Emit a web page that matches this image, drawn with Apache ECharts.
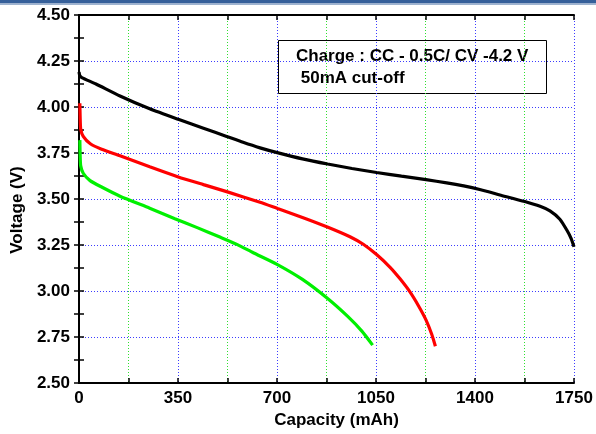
<!DOCTYPE html>
<html>
<head>
<meta charset="utf-8">
<script src="https://cdn.jsdelivr.net/npm/echarts@6/dist/echarts.min.js"></script>
<style>
html,body{margin:0;padding:0;background:#fff;}
#chart{width:596px;height:434px;}
</style>
</head>
<body>
<div id="chart"></div>
<script>
// ---- data (capacity mAh, voltage V) ----
var xTicks = [0, 350, 700, 1050, 1400, 1750];
var yTicks = [2.50, 2.75, 3.00, 3.25, 3.50, 3.75, 4.00, 4.25, 4.50];

var blackCurve = [
  [0, 4.19], [3, 4.17], [10, 4.16], [60, 4.125], [145, 4.06], [250, 3.99],
  [351, 3.933], [440, 3.885], [522, 3.84], [580, 3.808], [640, 3.778],
  [701, 3.752], [790, 3.718], [879, 3.69], [965, 3.666], [1052, 3.644],
  [1140, 3.624], [1227, 3.605], [1300, 3.588], [1360, 3.571], [1420, 3.55],
  [1488, 3.522], [1576, 3.486], [1630, 3.46], [1665, 3.435], [1700, 3.39],
  [1725, 3.33], [1740, 3.285], [1750, 3.24]
];
var redCurve = [
  [3, 4.02], [4, 3.95], [6, 3.88], [15, 3.84], [40, 3.80], [80, 3.77],
  [145, 3.735], [250, 3.675], [351, 3.62], [440, 3.578], [522, 3.54],
  [640, 3.482], [702, 3.448], [790, 3.40], [878, 3.348], [958, 3.295],
  [1005, 3.254], [1052, 3.198], [1099, 3.13], [1135, 3.066], [1170, 2.995],
  [1200, 2.92], [1227, 2.842], [1247, 2.765], [1260, 2.70]
];
var greenCurve = [
  [3, 3.82], [4, 3.74], [6, 3.68], [15, 3.64], [39, 3.60], [80, 3.565],
  [145, 3.515], [250, 3.45], [339, 3.393], [420, 3.343], [498, 3.293],
  [560, 3.252], [616, 3.208], [700, 3.145], [790, 3.063], [880, 2.958],
  [950, 2.862], [1000, 2.782], [1038, 2.706]
];
var noteLines = ['Charge : CC - 0.5C/ CV -4.2 V', ' 50mA cut-off'];

var FONT = 'Liberation Sans';
var labelStyle = {fontFamily: FONT, fontSize: 17, fontWeight: 'bold', color: '#000'};
var tickStyle = {color: '#000', width: 1.5};
var blueDot = {color: '#3c3cff', width: 1, type: [1, 2]};
var greenDot = {color: '#30e030', width: 1, type: [1, 2]};

var chart = echarts.init(document.getElementById('chart'), null, {renderer: 'canvas'});
var option = {
  backgroundColor: '#fff',
  animation: false,
  grid: {left: 79, right: 22, top: 15, bottom: 51, containLabel: false},
  xAxis: [{
    type: 'value', min: xTicks[0], max: xTicks[xTicks.length - 1],
    interval: xTicks[1] - xTicks[0], position: 'bottom',
    name: 'Capacity (mAh)', nameLocation: 'middle', nameGap: 27,
    nameTextStyle: {fontFamily: FONT, fontSize: 17, fontWeight: 'bold', color: '#000', padding: [0, 0, 0, 20]},
    axisLine: {show: true, lineStyle: {color: '#000', width: 2}},
    axisTick: {show: true, inside: true, length: 5, lineStyle: tickStyle},
    minorTick: {show: true, splitNumber: 2, length: 5, lineStyle: tickStyle},
    axisLabel: Object.assign({margin: 7, formatter: function (v) { return String(v); }}, labelStyle),
    splitLine: {show: true, lineStyle: blueDot},
    minorSplitLine: {show: true, lineStyle: greenDot}
  }, {
    type: 'value', min: xTicks[0], max: xTicks[xTicks.length - 1],
    interval: xTicks[1] - xTicks[0], position: 'top',
    axisLine: {show: true, lineStyle: {color: '#000', width: 2}},
    axisTick: {show: true, inside: true, length: 5, lineStyle: tickStyle},
    minorTick: {show: true, splitNumber: 2, length: 5, lineStyle: tickStyle},
    axisLabel: {show: false}, splitLine: {show: false}
  }],
  yAxis: [{
    type: 'value', min: yTicks[0], max: yTicks[yTicks.length - 1],
    interval: yTicks[1] - yTicks[0], position: 'left',
    name: 'Voltage (V)', nameLocation: 'middle', nameGap: 51,
    nameTextStyle: {fontFamily: FONT, fontSize: 17, fontWeight: 'bold', color: '#000', padding: [0, 22, 0, 0]},
    axisLine: {show: true, lineStyle: {color: '#000', width: 2}},
    axisTick: {show: true, inside: true, length: 5, lineStyle: tickStyle},
    minorTick: {show: true, splitNumber: 2, length: 5, lineStyle: tickStyle},
    axisLabel: Object.assign({margin: 9, formatter: function (v) { return v.toFixed(2); }}, labelStyle),
    splitLine: {show: true, lineStyle: blueDot}
  }, {
    type: 'value', min: yTicks[0], max: yTicks[yTicks.length - 1],
    interval: yTicks[1] - yTicks[0], position: 'right',
    axisLine: {show: true, lineStyle: {color: '#000', width: 2}},
    axisTick: {show: true, inside: true, length: 5, lineStyle: tickStyle},
    minorTick: {show: true, splitNumber: 2, length: 5, lineStyle: tickStyle},
    axisLabel: {show: false}, splitLine: {show: false}
  }],
  series: [
    {type: 'line', data: blackCurve, showSymbol: false, smooth: 0.2, lineStyle: {color: '#000', width: 3.2}, z: 3},
    {type: 'line', data: redCurve, showSymbol: false, smooth: 0.2, lineStyle: {color: '#ff0000', width: 3.2}, z: 3},
    {type: 'line', data: greenCurve, showSymbol: false, smooth: 0.2, lineStyle: {color: '#00f000', width: 3.2}, z: 3}
  ],
  graphic: [
    {type: 'rect', left: 0, top: 0, shape: {width: 596, height: 3.5}, style: {fill: '#36609a'}, z: 10},
    {type: 'rect', left: 0, top: 3.5, shape: {width: 596, height: 1.5}, style: {fill: '#9fb4d0'}, z: 10},
    {type: 'group', left: 278, top: 40, z: 20, children: [
      {type: 'rect', shape: {x: 0.5, y: 0.5, width: 268, height: 53}, style: {fill: '#fff', stroke: '#000', lineWidth: 1}},
      {type: 'text', x: 18, y: 16, style: {text: noteLines[0], font: 'bold 17px "Liberation Sans"', fill: '#000', textVerticalAlign: 'middle'}},
      {type: 'text', x: 18, y: 38, style: {text: noteLines[1], font: 'bold 17px "Liberation Sans"', fill: '#000', textVerticalAlign: 'middle'}}
    ]}
  ]
};
chart.setOption(option);
</script>
</body>
</html>
